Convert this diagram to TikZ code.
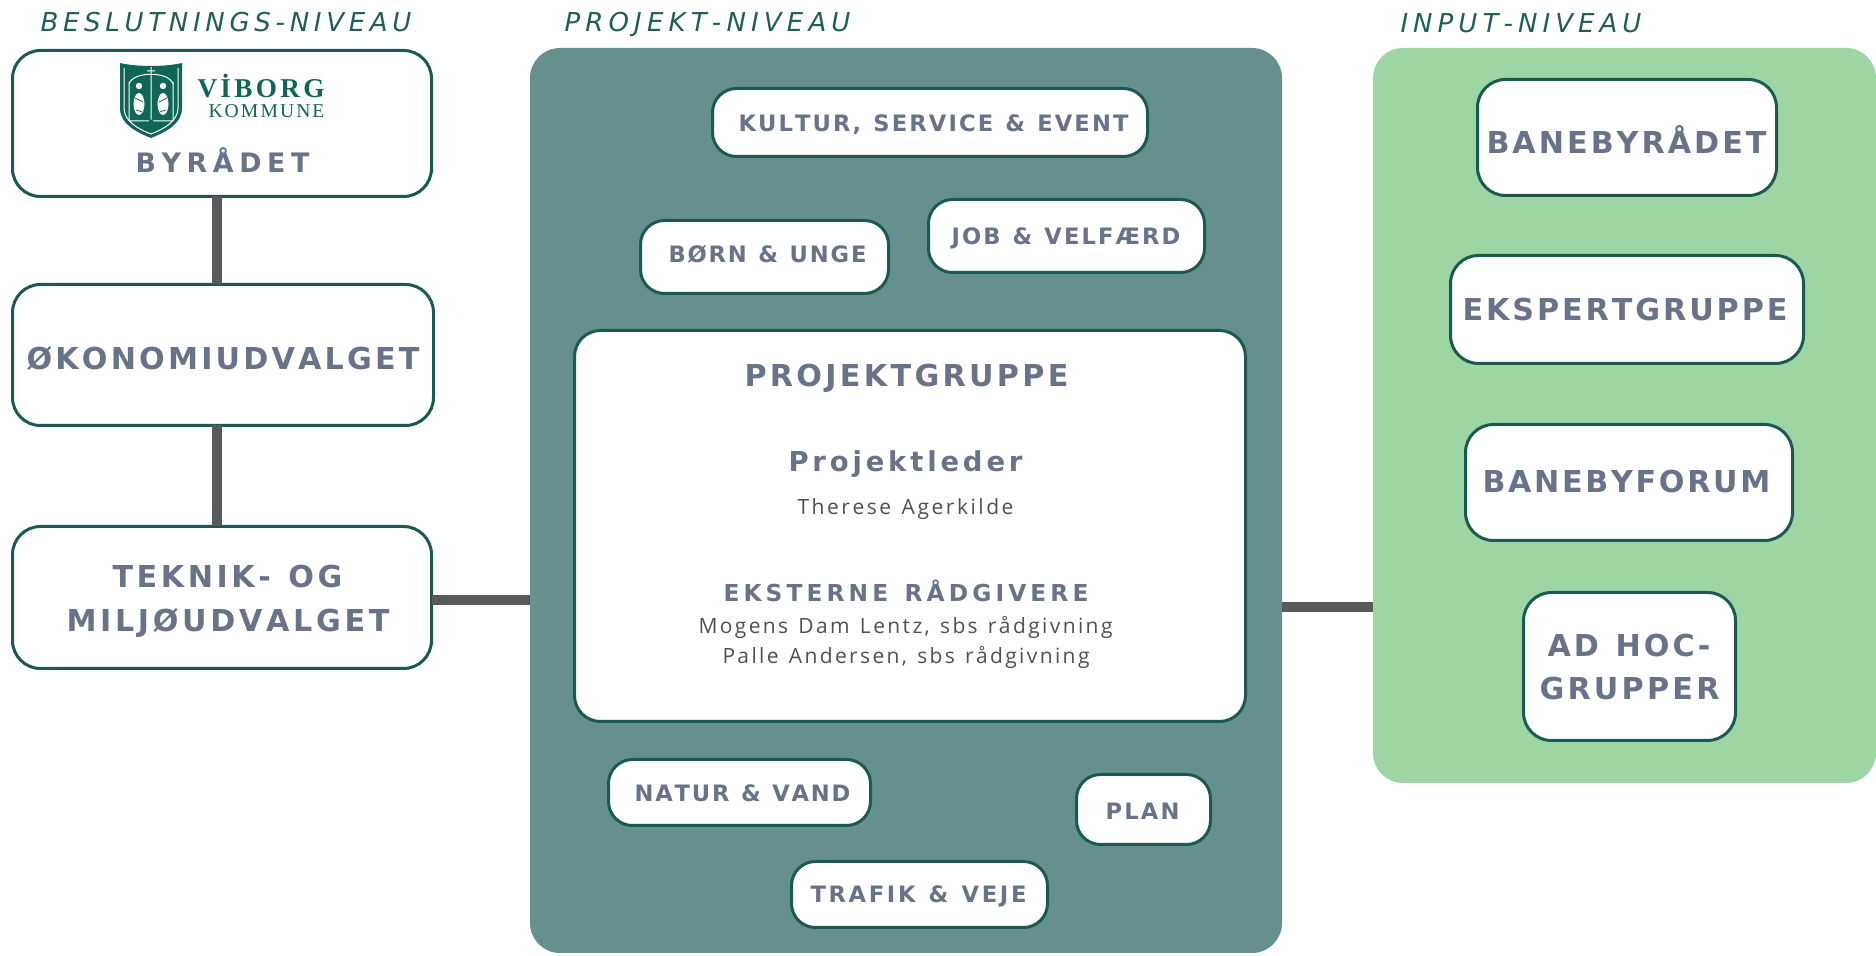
\documentclass[tikz,border=0pt]{standalone}
\usepackage{fontspec}
\setmainfont{Open Sans}
\newfontfamily\dv{DejaVu Sans}
\newfontfamily\os{Open Sans}
\newfontfamily\lser{Liberation Serif}
\definecolor{txt}{HTML}{687389}
\definecolor{boxc}{HTML}{1B5A52}
\definecolor{tealc}{HTML}{66908D}
\definecolor{greenc}{HTML}{9DD5A3}
\definecolor{ttlc}{HTML}{1F5F57}
\definecolor{connc}{HTML}{58595B}
\definecolor{bodyc}{HTML}{505050}
\definecolor{logoc}{HTML}{0F6656}
\ExplSyntaxOn
\NewDocumentCommand \spr { m m }
  { \hbox_to_wd:nn { #1 pt / 2 } { \str_map_inline:nn { #2 } { ##1 \hfil } \unskip } }
\ExplSyntaxOff
\tikzset{
  area/.style={inner sep=0pt, outer sep=0pt, rounded corners=15pt},
  box/.style={draw=boxc, line width=1.5pt, fill=white, inner sep=0pt, outer sep=0pt, rounded corners=#1},
  box/.default=13pt,
  conn/.style={draw=connc, line width=5pt},
  lbl/.style={inner sep=0pt, outer sep=0pt, anchor=base, text=txt},
  hdA/.style={lbl, font=\dv\bfseries\fontsize{15.09}{18}\selectfont},
  hdB/.style={lbl, font=\dv\bfseries\fontsize{11.3}{14}\selectfont},
  ttl/.style={lbl, text=ttlc, font=\dv\itshape\fontsize{13}{16}\selectfont},
  body/.style={lbl, text=bodyc, font=\os\fontsize{10.5}{13}\selectfont},
  logow/.style={draw=white, line width=0.5pt},
}
\begin{document}
\begin{tikzpicture}[x=0.5pt,y=-0.5pt]
\useasboundingbox (0,0) rectangle (1876,956);
\fill[white] (0,0) rectangle (1876,956);

% level titles
\node[ttl] (t1) at (226,32) {\spr{371}{BESLUTNINGS-NIVEAU}};
\node[ttl] (t2) at (707.5,32) {\spr{286}{PROJEKT-NIVEAU}};
\node[ttl] (t3) at (1521,33) {\spr{241}{INPUT-NIVEAU}};

% areas
\node[area, fill=tealc, minimum width=376pt, minimum height=452.5pt] (teal) at (906,500.5) {};
\node[area, fill=greenc, minimum width=251.5pt, minimum height=367.5pt] (green) at (1624.5,415.5) {};

% left column
\node[box=14pt, minimum width=209.5pt, minimum height=73pt] (byr) at (222,123.5) {};
\node[box=14pt, minimum width=210.5pt, minimum height=70.5pt] (oko) at (223,355) {};
\node[box=14pt, minimum width=209.5pt, minimum height=71pt] (tek) at (222,597.5) {};

% logo
\fill[logoc] (120,63) -- (120,108) .. controls (120,124) and (136,132) .. (151,138)
  .. controls (166,132) and (182,124) .. (182,108) -- (182,63)
  .. controls (165,67) and (137,67) .. (120,63) -- cycle;
\draw[logow] (124,68) -- (124,108) .. controls (124,121) and (138,129) .. (151,134)
  .. controls (164,129) and (178,121) .. (178,108) -- (178,68);
\draw[logow] (129,121) -- (129,82) (173,121) -- (173,82)
  (129,84) .. controls (133,71) and (169,71) .. (173,84)
  (151,73) -- (151,121) (147,71) -- (155,71) (151,67) -- (151,75)
  (129,121) -- (173,121);
\fill[white] (139,86) circle (3.2) (163,86) circle (3.2);
\fill[white] (139,104) ellipse (5.5 and 11);
\fill[white] (163,104) ellipse (5.5 and 11);
\draw[logoc, line width=0.4pt] (135,98) -- (143,102) (159,102) -- (167,98)
  (136,110) -- (142,112) (160,112) -- (166,110);
\fill[logoc] (151,122) circle (2.5);
\node[lbl, text=logoc, font=\lser\bfseries\fontsize{13.6}{16}\selectfont] (vib) at (261,98) {\spr{127}{VİBORG}};
\node[lbl, text=logoc, font=\lser\fontsize{9.8}{12}\selectfont] (kom) at (266.5,118) {\spr{116}{KOMMUNE}};

\node[hdA, font=\dv\bfseries\fontsize{13.4}{16}\selectfont] (byrT) at (222.5,173) {\spr{174}{BYRÅDET}};
\node[hdA] (okoT) at (223,370) {\spr{393}{ØKONOMIUDVALGET}};
\node[hdA] (tekT1) at (227.5,588) {\spr{230}{TEKNIK- OG}};
\node[hdA] (tekT2) at (228,632) {\spr{323}{MILJØUDVALGET}};

% middle boxes
\node[box=12pt, minimum width=217.5pt, minimum height=34pt] (kul) at (930,122.5) {};
\node[box=12pt, minimum width=124pt, minimum height=36.5pt] (born) at (764.5,257) {};
\node[box=12pt, minimum width=138pt, minimum height=36.5pt] (job) at (1066.5,236) {};
\node[box=13pt, minimum width=335.5pt, minimum height=195.5pt] (pg) at (910,526) {};
\node[box=12pt, minimum width=131pt, minimum height=33pt] (natur) at (739.5,792.5) {};
\node[box=12pt, minimum width=67pt, minimum height=35pt] (plan) at (1143.5,809.5) {};
\node[box=12pt, minimum width=128pt, minimum height=33pt] (trafik) at (919.5,894.5) {};

\node[hdB] (kulT) at (933.5,132) {\spr{390}{KULTUR, SERVICE & EVENT}};
\node[hdB] (bornT) at (767.5,263) {\spr{198}{BØRN & UNGE}};
\node[hdB] (jobT) at (1066,245) {\spr{229}{JOB & VELFÆRD}};
\node[hdB] (natT) at (742.5,802) {\spr{216}{NATUR & VAND}};
\node[hdB] (planT) at (1142.5,820) {\spr{74}{PLAN}};
\node[hdB] (trT) at (918.5,903) {\spr{216}{TRAFIK & VEJE}};

\node[hdA] (pgT) at (906.5,387) {\spr{324}{PROJEKTGRUPPE}};
\node[hdA, font=\dv\bfseries\fontsize{13.72}{16}\selectfont] (plT) at (905.5,472) {\spr{234}{Projektleder}};
\node[body] (thT) at (905.5,515) {\spr{216}{Therese Agerkilde}};
\node[hdB, font=\dv\bfseries\fontsize{11.66}{14}\selectfont] (exT) at (906,602) {\spr{365}{EKSTERNE RÅDGIVERE}};
\node[body] (moT) at (905.5,634) {\spr{414}{Mogens Dam Lentz, sbs rådgivning}};
\node[body] (paT) at (906,664) {\spr{367}{Palle Andersen, sbs rådgivning}};

% right column
\node[box=14pt, minimum width=149.5pt, minimum height=58pt] (baneby) at (1627,137.5) {};
\node[box=14pt, minimum width=176.5pt, minimum height=54pt] (eksp) at (1627,309.5) {};
\node[box=14pt, minimum width=163.5pt, minimum height=58pt] (forum) at (1629,482.5) {};
\node[box=14pt, minimum width=106pt, minimum height=74pt] (adhoc) at (1629.5,666.5) {};

\node[hdA] (banT) at (1626.5,154) {\spr{280}{BANEBYRÅDET}};
\node[hdA] (ekT) at (1625,321) {\spr{325}{EKSPERTGRUPPE}};
\node[hdA] (foT) at (1626.5,493) {\spr{288}{BANEBYFORUM}};
\node[hdA] (adT1) at (1629,657) {\spr{163}{AD HOC-}};
\node[hdA] (adT2) at (1629.5,700) {\spr{180}{GRUPPER}};

% connectors
\coordinate (vx) at (217,0);
\coordinate (hl) at (0,600);
\coordinate (hr) at (0,607);
\draw[conn] (byr.south -| vx) -- (oko.north -| vx);
\draw[conn] (oko.south -| vx) -- (tek.north -| vx);
\draw[conn] (tek.east |- hl) -- (teal.west |- hl);
\draw[conn] (teal.east |- hr) -- (green.west |- hr);
\end{tikzpicture}
\end{document}
